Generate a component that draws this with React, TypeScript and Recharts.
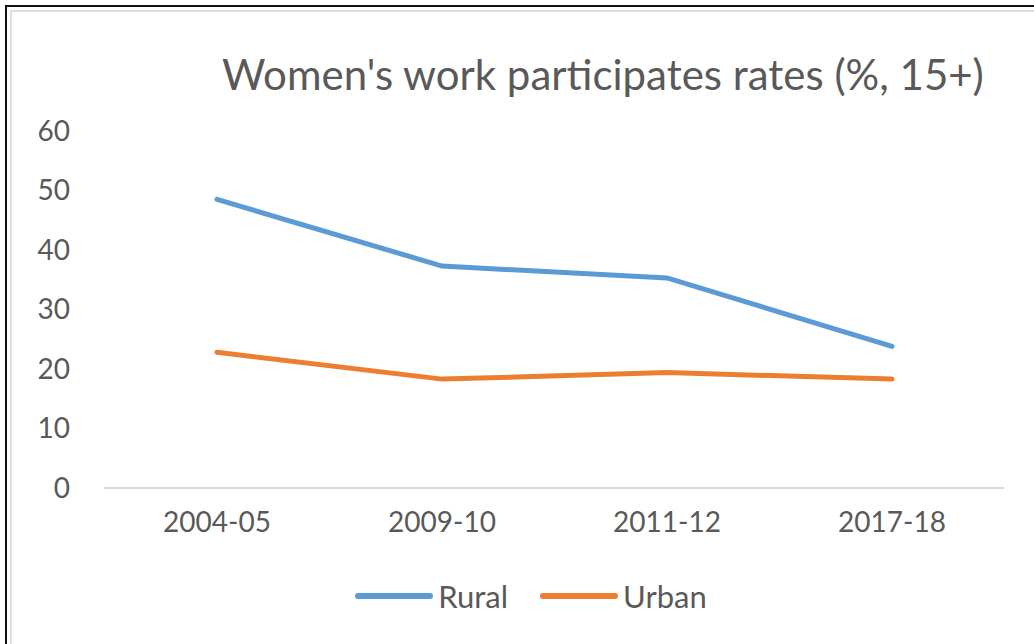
import { LineChart, Line, XAxis, YAxis } from 'recharts'

const periods = ['2004-05', '2009-10', '2011-12', '2017-18']
const rural = [48.5, 37.3, 35.3, 23.8]
const urban = [22.8, 18.3, 19.4, 18.3]
const yTicks = [0, 10, 20, 30, 40, 50, 60]

const seriesInfo = [
  { key: 'Rural', color: '#5B9BD5' },
  { key: 'Urban', color: '#ED7D31' },
]

const data = periods.map((p, i) => ({ period: p, Rural: rural[i], Urban: urban[i] }))

const FONT = 'Lato, "Open Sans", sans-serif'
const TEXT = '#595959'

function LegendRow() {
  return (
    <div
      style={{
        position: 'absolute',
        top: 577,
        left: 14,
        width: 1034,
        display: 'flex',
        justifyContent: 'center',
        gap: 32,
        fontFamily: FONT,
        fontSize: 31,
        color: TEXT,
      }}
    >
      {seriesInfo.map((s) => (
        <div key={s.key} style={{ display: 'flex', alignItems: 'center' }}>
          <div style={{ width: 78, height: 6, borderRadius: 3, background: s.color, marginRight: 5 }} />
          <span>{s.key}</span>
        </div>
      ))}
    </div>
  )
}

export default function App() {
  return (
    <div style={{ position: 'absolute', left: 0, top: 0, width: 1034, height: 644, background: '#fff', overflow: 'hidden' }}>
      {/* frame */}
      <div style={{ position: 'absolute', left: 5, top: 5, width: 1040, height: 650, borderLeft: '2px solid #111', borderTop: '2px solid #111' }} />
      <div style={{ position: 'absolute', left: 10, top: 10, width: 1040, height: 650, borderLeft: '2px solid #ddd', borderTop: '2px solid #ddd' }} />
      <div
        style={{
          position: 'absolute',
          top: 49,
          left: 222,
          fontFamily: FONT,
          fontSize: 42,
          color: TEXT,
          whiteSpace: 'nowrap',
        }}
      >
        Women's work participates rates (%, 15+)
      </div>
      <LineChart
        width={1034}
        height={644}
        data={data}
        margin={{ top: 131, right: 30, bottom: 96, left: 0 }}
        style={{ position: 'absolute', left: 0, top: 0 }}
      >
        <XAxis
          dataKey="period"
          axisLine={{ stroke: '#d9d9d9', strokeWidth: 2 }}
          tickLine={false}
          tickSize={0}
          tickMargin={24}
          padding={{ left: 113, right: 112 }}
          tick={{ fill: TEXT, fontSize: 28, fontFamily: FONT }}
          height={60}
        />
        <YAxis
          domain={[0, 60]}
          ticks={yTicks}
          width={104}
          axisLine={false}
          tickLine={false}
          tickSize={0}
          tickMargin={34}
          tick={{ fill: TEXT, fontSize: 28, fontFamily: FONT }}
        />
        {seriesInfo.map((s) => (
          <Line
            key={s.key}
            dataKey={s.key}
            stroke={s.color}
            strokeWidth={5}
            dot={false}
            activeDot={false}
            strokeLinecap="round"
            isAnimationActive={false}
          />
        ))}
      </LineChart>
      <LegendRow />
    </div>
  )
}
